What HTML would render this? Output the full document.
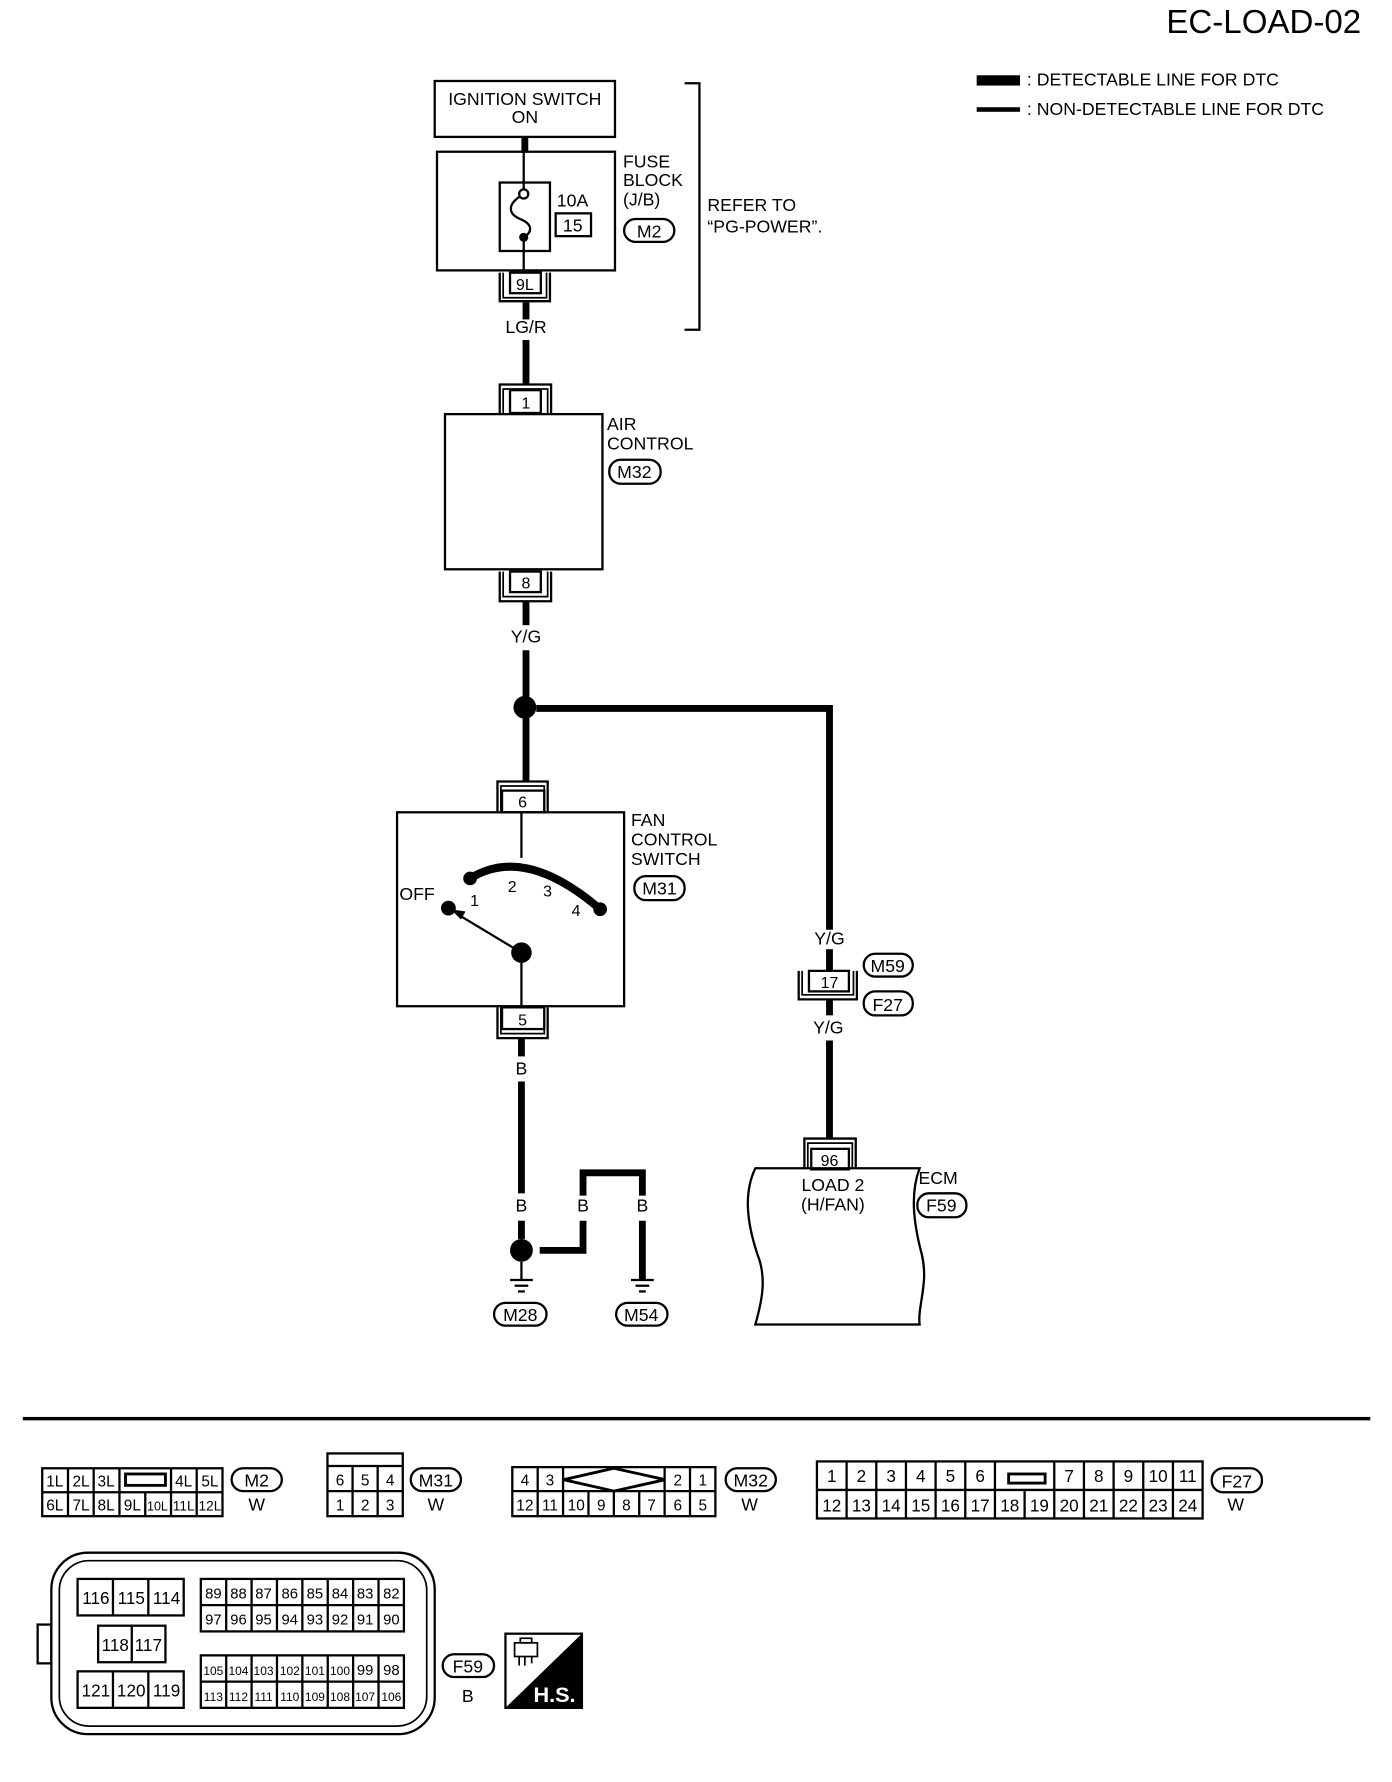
<!DOCTYPE html>
<html><head><meta charset="utf-8"><style>
html,body{margin:0;padding:0;background:#fff}
svg{display:block}
text{font-family:"Liberation Sans",sans-serif;fill:#000}
</style></head><body>
<svg width="1392" height="1782" viewBox="0 0 1220 1562" preserveAspectRatio="none" xmlns="http://www.w3.org/2000/svg">
<g font-size="15.5">
<text x="1193" y="29" font-size="29" text-anchor="end">EC-LOAD-02</text>
<rect x="856" y="66" width="38" height="9" fill="#000"/>
<text x="900" y="75">: DETECTABLE LINE FOR DTC</text>
<rect x="856" y="94" width="38" height="4" fill="#000"/>
<text x="900" y="101">: NON-DETECTABLE LINE FOR DTC</text>

<g fill="none" stroke="#000" stroke-width="2">
<rect x="381" y="71" width="158" height="49"/>
<rect x="383" y="133" width="156" height="104"/>
<rect x="438" y="160" width="44" height="60"/>
<rect x="487" y="187" width="31" height="20"/>
<polyline points="600,73 613,73 613,289 600,289"/>
<line x1="459" y1="133" x2="459" y2="166" />
<line x1="459" y1="208" x2="459" y2="237"/>
<circle cx="459" cy="170" r="4"/>
<path d="M456,172 C444,180 446,188 456,192 C468,197 466,204 459,208"/>
<rect x="447" y="239" width="27" height="18"/>
<polyline points="438,239 438,264 482,264 482,239"/>
<polyline points="441,239 441,261 479,261 479,239" stroke-width="1.5"/>
<rect x="447" y="342" width="27" height="20"/>
<polyline points="438,362 438,337 483,337 483,362"/>
<polyline points="441,362 441,341 480,341 480,362" stroke-width="1.5"/>
<rect x="390" y="363" width="138" height="136"/>
<rect x="447" y="501" width="27" height="18"/>
<polyline points="438,501 438,527 483,527 483,501"/>
<polyline points="441,501 441,523 480,523 480,501" stroke-width="1.5"/>
<rect x="440" y="693" width="37" height="19"/>
<polyline points="436,711 436,685 480,685 480,711"/>
<polyline points="439,711 439,689 477,689 477,711" stroke-width="1.5"/>
<rect x="348" y="712" width="199" height="170"/>
<line x1="457" y1="712" x2="457" y2="752"/>
<line x1="457" y1="835" x2="457" y2="882"/>
<line x1="457" y1="835" x2="402" y2="802"/>
<rect x="440" y="883" width="37" height="19"/>
<polyline points="436,883 436,910 480,910 480,883"/>
<polyline points="439,883 439,906 477,906 477,883" stroke-width="1.5"/>
<rect x="709" y="851" width="35" height="18"/>
<polyline points="700,851 700,876 751,876 751,851"/>
<polyline points="703,851 703,872 748,872 748,851" stroke-width="1.5"/>
<rect x="711" y="1007" width="33" height="18"/>
<polyline points="705,1024 705,998 750,998 750,1024"/>
<polyline points="708,1024 708,1002 747,1002 747,1024" stroke-width="1.5"/>
<path d="M662,1024 L806,1024 C798,1045 800,1070 808,1100 C814,1125 804,1145 806,1161 L662,1161 C668,1140 672,1120 664,1100 C654,1070 652,1045 662,1024 Z"/>
<line x1="447" y1="1122" x2="467" y2="1122"/><line x1="451" y1="1127" x2="463" y2="1127"/><line x1="454" y1="1132" x2="460" y2="1132"/>
<line x1="553" y1="1122" x2="573" y2="1122"/><line x1="557" y1="1127" x2="569" y2="1127"/><line x1="560" y1="1132" x2="566" y2="1132"/>
<line x1="457" y1="1106" x2="457" y2="1122"/>
</g>
<polygon points="395,797 408,799 404,806" fill="#000"/>

<g fill="none" stroke="#000" stroke-width="6">
<line x1="460" y1="120" x2="460" y2="133"/>
<line x1="461" y1="265" x2="461" y2="280"/>
<line x1="461" y1="298" x2="461" y2="337"/>
<line x1="461" y1="527" x2="461" y2="548"/>
<line x1="461" y1="570" x2="461" y2="685"/>
<polyline points="470,621 727,621 727,815"/>
<line x1="727" y1="832" x2="727" y2="851"/>
<line x1="727" y1="876" x2="727" y2="890"/>
<line x1="727" y1="912" x2="727" y2="998"/>
<line x1="457" y1="910" x2="457" y2="926"/>
<line x1="457" y1="948" x2="457" y2="1046"/>
<line x1="457" y1="1070" x2="457" y2="1086"/>
<polyline points="473,1096 511,1096 511,1070"/>
<polyline points="511,1048 511,1028 563,1028 563,1048"/>
<line x1="563" y1="1070" x2="563" y2="1122"/>
<path d="M412,770 Q460,740 526,797" stroke-width="7"/>
</g>
<g fill="#000">
<circle cx="460" cy="620" r="10"/>
<circle cx="457" cy="1096" r="10"/>
<circle cx="412" cy="770" r="6"/>
<circle cx="526" cy="797" r="6"/>
<circle cx="393" cy="796" r="6.5"/>
<circle cx="457" cy="835" r="9"/>
<circle cx="459" cy="208" r="4"/>
</g>

<text x="460" y="92" text-anchor="middle">IGNITION SWITCH</text>
<text x="460" y="108" text-anchor="middle">ON</text>
<text x="546" y="147">FUSE</text><text x="546" y="163">BLOCK</text><text x="546" y="180">(J/B)</text>
<text x="488" y="181">10A</text><text x="502" y="203" text-anchor="middle">15</text>
<text x="620" y="185">REFER TO</text><text x="620" y="204">“PG-POWER”.</text>
<text x="460" y="254" text-anchor="middle" font-size="14">9L</text>
<text x="461" y="292" text-anchor="middle">LG/R</text>
<text x="461" y="358" text-anchor="middle" font-size="14">1</text>
<text x="532" y="377">AIR</text><text x="532" y="394">CONTROL</text>
<text x="461" y="516" text-anchor="middle" font-size="14">8</text>
<text x="461" y="563" text-anchor="middle">Y/G</text>
<text x="458" y="708" text-anchor="middle" font-size="14">6</text>
<text x="553" y="724">FAN</text><text x="553" y="741">CONTROL</text><text x="553" y="758">SWITCH</text>
<text x="350" y="789">OFF</text><text x="412" y="794" font-size="14">1</text><text x="445" y="782" font-size="14">2</text><text x="476" y="786" font-size="14">3</text><text x="501" y="803" font-size="14">4</text>
<text x="458" y="899" text-anchor="middle" font-size="14">5</text>
<text x="457" y="942" text-anchor="middle">B</text>
<text x="457" y="1062" text-anchor="middle">B</text><text x="511" y="1062" text-anchor="middle">B</text><text x="563" y="1062" text-anchor="middle">B</text>
<text x="727" y="828" text-anchor="middle">Y/G</text>
<text x="727" y="866" text-anchor="middle" font-size="14">17</text>
<text x="726" y="906" text-anchor="middle">Y/G</text>
<text x="727" y="1022" text-anchor="middle" font-size="14">96</text>
<text x="730" y="1044" text-anchor="middle">LOAD 2</text><text x="730" y="1061" text-anchor="middle">(H/FAN)</text>
<text x="805" y="1038">ECM</text>

<g fill="none" stroke="#000" stroke-width="2">
<rect x="547" y="192" width="44" height="20" rx="10"/>
<rect x="534" y="403" width="45" height="21" rx="10"/>
<rect x="556" y="768" width="44" height="21" rx="10"/>
<rect x="757" y="836" width="43" height="20" rx="10"/>
<rect x="757" y="869" width="43" height="21" rx="10"/>
<rect x="804" y="1046" width="43" height="21" rx="10"/>
<rect x="433" y="1142" width="46" height="20" rx="10"/>
<rect x="540" y="1142" width="45" height="20" rx="10"/>
</g>
<text x="569" y="208" text-anchor="middle">M2</text>
<text x="556" y="419" text-anchor="middle">M32</text>
<text x="578" y="784" text-anchor="middle">M31</text>
<text x="778" y="852" text-anchor="middle">M59</text>
<text x="778" y="886" text-anchor="middle">F27</text>
<text x="825" y="1062" text-anchor="middle">F59</text>
<text x="456" y="1158" text-anchor="middle">M28</text>
<text x="562" y="1158" text-anchor="middle">M54</text>

<rect x="20" y="1242" width="1181" height="3" fill="#000"/>

<!-- bottom connectors -->
<g fill="none" stroke="#000" stroke-width="2">
<rect x="37" y="1287" width="158" height="42"/>
<line x1="37" y1="1308" x2="195" y2="1308"/>
<line x1="59.6" y1="1287" x2="59.6" y2="1329"/><line x1="82.1" y1="1287" x2="82.1" y2="1329"/><line x1="104.7" y1="1287" x2="104.7" y2="1329"/>
<line x1="127.3" y1="1308" x2="127.3" y2="1329"/><line x1="149.9" y1="1287" x2="149.9" y2="1329"/><line x1="172.4" y1="1287" x2="172.4" y2="1329"/>
<rect x="110" y="1292" width="35" height="10" stroke-width="2.5"/>
<rect x="287" y="1274" width="66" height="55"/>
<line x1="287" y1="1285" x2="353" y2="1285"/><line x1="287" y1="1307" x2="353" y2="1307"/>
<line x1="309" y1="1285" x2="309" y2="1329"/><line x1="331" y1="1285" x2="331" y2="1329"/>
<rect x="449" y="1286" width="178" height="43"/>
<line x1="449" y1="1307" x2="627" y2="1307"/>
<line x1="471.25" y1="1286" x2="471.25" y2="1329"/><line x1="493.5" y1="1286" x2="493.5" y2="1329"/>
<line x1="515.75" y1="1307" x2="515.75" y2="1329"/><line x1="538" y1="1307" x2="538" y2="1329"/><line x1="560.25" y1="1307" x2="560.25" y2="1329"/>
<line x1="582.5" y1="1286" x2="582.5" y2="1329"/><line x1="604.75" y1="1286" x2="604.75" y2="1329"/>
<polygon points="494,1297 538,1287 583,1297 538,1307" stroke-width="2.5"/>
<rect x="716" y="1281" width="338" height="50"/>
<line x1="716" y1="1306" x2="1054" y2="1306"/>
<rect x="884" y="1292" width="32" height="8" stroke-width="2.5"/>
<rect x="203" y="1287" width="44" height="20" rx="10"/>
<rect x="360" y="1287" width="44" height="20" rx="10"/>
<rect x="636" y="1287" width="44" height="20" rx="10"/>
<rect x="1062" y="1287" width="44" height="21" rx="10"/>
<rect x="388" y="1450" width="45" height="20" rx="10"/>
<rect x="45" y="1361" width="336" height="159" rx="32"/>
<rect x="52" y="1368" width="322" height="145" rx="26" stroke-width="1.5"/>
<rect x="33" y="1424" width="12" height="34"/>
<rect x="68" y="1384" width="93" height="32"/><line x1="99" y1="1384" x2="99" y2="1416"/><line x1="130" y1="1384" x2="130" y2="1416"/>
<rect x="86" y="1425" width="59" height="32"/><line x1="115.5" y1="1425" x2="115.5" y2="1457"/>
<rect x="68" y="1465" width="93" height="32"/><line x1="99" y1="1465" x2="99" y2="1497"/><line x1="130" y1="1465" x2="130" y2="1497"/>
<rect x="176" y="1384" width="178" height="46"/><line x1="176" y1="1407" x2="354" y2="1407"/>
<rect x="176" y="1451" width="178" height="46"/><line x1="176" y1="1474" x2="354" y2="1474"/>
</g>
<g fill="none" stroke="#000" stroke-width="2" id="f27v">
</g>
<g stroke="#000" stroke-width="2">
<line x1="742" y1="1281" x2="742" y2="1331"/><line x1="768" y1="1281" x2="768" y2="1331"/><line x1="794" y1="1281" x2="794" y2="1331"/><line x1="820" y1="1281" x2="820" y2="1331"/><line x1="846" y1="1281" x2="846" y2="1331"/><line x1="872" y1="1281" x2="872" y2="1331"/><line x1="898" y1="1306" x2="898" y2="1331"/><line x1="924" y1="1281" x2="924" y2="1331"/><line x1="950" y1="1281" x2="950" y2="1331"/><line x1="976" y1="1281" x2="976" y2="1331"/><line x1="1002" y1="1281" x2="1002" y2="1331"/><line x1="1028" y1="1281" x2="1028" y2="1331"/>
<line x1="198.25" y1="1384" x2="198.25" y2="1430"/><line x1="220.5" y1="1384" x2="220.5" y2="1430"/><line x1="242.75" y1="1384" x2="242.75" y2="1430"/><line x1="265" y1="1384" x2="265" y2="1430"/><line x1="287.25" y1="1384" x2="287.25" y2="1430"/><line x1="309.5" y1="1384" x2="309.5" y2="1430"/><line x1="331.75" y1="1384" x2="331.75" y2="1430"/>
<line x1="198.25" y1="1451" x2="198.25" y2="1497"/><line x1="220.5" y1="1451" x2="220.5" y2="1497"/><line x1="242.75" y1="1451" x2="242.75" y2="1497"/><line x1="265" y1="1451" x2="265" y2="1497"/><line x1="287.25" y1="1451" x2="287.25" y2="1497"/><line x1="309.5" y1="1451" x2="309.5" y2="1497"/><line x1="331.75" y1="1451" x2="331.75" y2="1497"/>
</g>
<g font-size="13.5" text-anchor="middle">
<text x="48" y="1303">1L</text><text x="71" y="1303">2L</text><text x="93" y="1303">3L</text><text x="161" y="1303">4L</text><text x="184" y="1303">5L</text>
<text x="48" y="1324">6L</text><text x="71" y="1324">7L</text><text x="93" y="1324">8L</text><text x="116" y="1324">9L</text><text x="138" y="1324" font-size="11">10L</text><text x="161" y="1324" font-size="12">11L</text><text x="184" y="1324" font-size="12">12L</text>
<text x="298" y="1302">6</text><text x="320" y="1302">5</text><text x="342" y="1302">4</text>
<text x="298" y="1324">1</text><text x="320" y="1324">2</text><text x="342" y="1324">3</text>
<text x="460" y="1302">4</text><text x="482" y="1302">3</text><text x="594" y="1302">2</text><text x="616" y="1302">1</text>
<text x="460" y="1324">12</text><text x="482" y="1324">11</text><text x="505" y="1324">10</text><text x="527" y="1324">9</text><text x="549" y="1324">8</text><text x="571" y="1324">7</text><text x="594" y="1324">6</text><text x="616" y="1324">5</text>
<g font-size="15">
<text x="729" y="1299">1</text><text x="755" y="1299">2</text><text x="781" y="1299">3</text><text x="807" y="1299">4</text><text x="833" y="1299">5</text><text x="859" y="1299">6</text><text x="937" y="1299">7</text><text x="963" y="1299">8</text><text x="989" y="1299">9</text><text x="1015" y="1299">10</text><text x="1041" y="1299">11</text>
<text x="729" y="1325">12</text><text x="755" y="1325">13</text><text x="781" y="1325">14</text><text x="807" y="1325">15</text><text x="833" y="1325">16</text><text x="859" y="1325">17</text><text x="885" y="1325">18</text><text x="911" y="1325">19</text><text x="937" y="1325">20</text><text x="963" y="1325">21</text><text x="989" y="1325">22</text><text x="1015" y="1325">23</text><text x="1041" y="1325">24</text>
</g>
<text x="84" y="1406" font-size="15">116</text><text x="115" y="1406" font-size="15">115</text><text x="146" y="1406" font-size="15">114</text>
<text x="101" y="1447" font-size="15">118</text><text x="130" y="1447" font-size="15">117</text>
<text x="84" y="1487" font-size="15">121</text><text x="115" y="1487" font-size="15">120</text><text x="146" y="1487" font-size="15">119</text>
<g font-size="13">
<text x="187" y="1401">89</text><text x="209" y="1401">88</text><text x="231" y="1401">87</text><text x="254" y="1401">86</text><text x="276" y="1401">85</text><text x="298" y="1401">84</text><text x="320" y="1401">83</text><text x="343" y="1401">82</text>
<text x="187" y="1424">97</text><text x="209" y="1424">96</text><text x="231" y="1424">95</text><text x="254" y="1424">94</text><text x="276" y="1424">93</text><text x="298" y="1424">92</text><text x="320" y="1424">91</text><text x="343" y="1424">90</text>
</g>
<g font-size="10.5">
<text x="187" y="1468">105</text><text x="209" y="1468">104</text><text x="231" y="1468">103</text><text x="254" y="1468">102</text><text x="276" y="1468">101</text><text x="298" y="1468">100</text><text x="320" y="1468" font-size="13">99</text><text x="343" y="1468" font-size="13">98</text>
<text x="187" y="1491">113</text><text x="209" y="1491">112</text><text x="231" y="1491">111</text><text x="254" y="1491">110</text><text x="276" y="1491">109</text><text x="298" y="1491">108</text><text x="320" y="1491">107</text><text x="343" y="1491">106</text>
</g>
</g>
<g text-anchor="middle">
<text x="225" y="1303">M2</text><text x="225" y="1324">W</text>
<text x="382" y="1303">M31</text><text x="382" y="1324">W</text>
<text x="658" y="1303">M32</text><text x="657" y="1324">W</text>
<text x="1084" y="1304">F27</text><text x="1083" y="1324">W</text>
<text x="410" y="1466">F59</text><text x="410" y="1492">B</text>
</g>
<rect x="443" y="1432" width="67" height="65" fill="#fff" stroke="#000" stroke-width="2"/>
<polygon points="510,1432 510,1497 443,1497" fill="#000"/>
<g fill="none" stroke="#000" stroke-width="1.5">
<rect x="451" y="1440" width="20" height="12"/><rect x="456" y="1436" width="10" height="4"/>
<line x1="455" y1="1452" x2="455" y2="1460"/><line x1="460" y1="1452" x2="460" y2="1460"/><line x1="466" y1="1452" x2="466" y2="1458"/>
</g>
<text x="486" y="1492" font-size="19" font-weight="bold" text-anchor="middle" fill="#fff" style="fill:#fff">H.S.</text>
</g>
</svg>
</body></html>
